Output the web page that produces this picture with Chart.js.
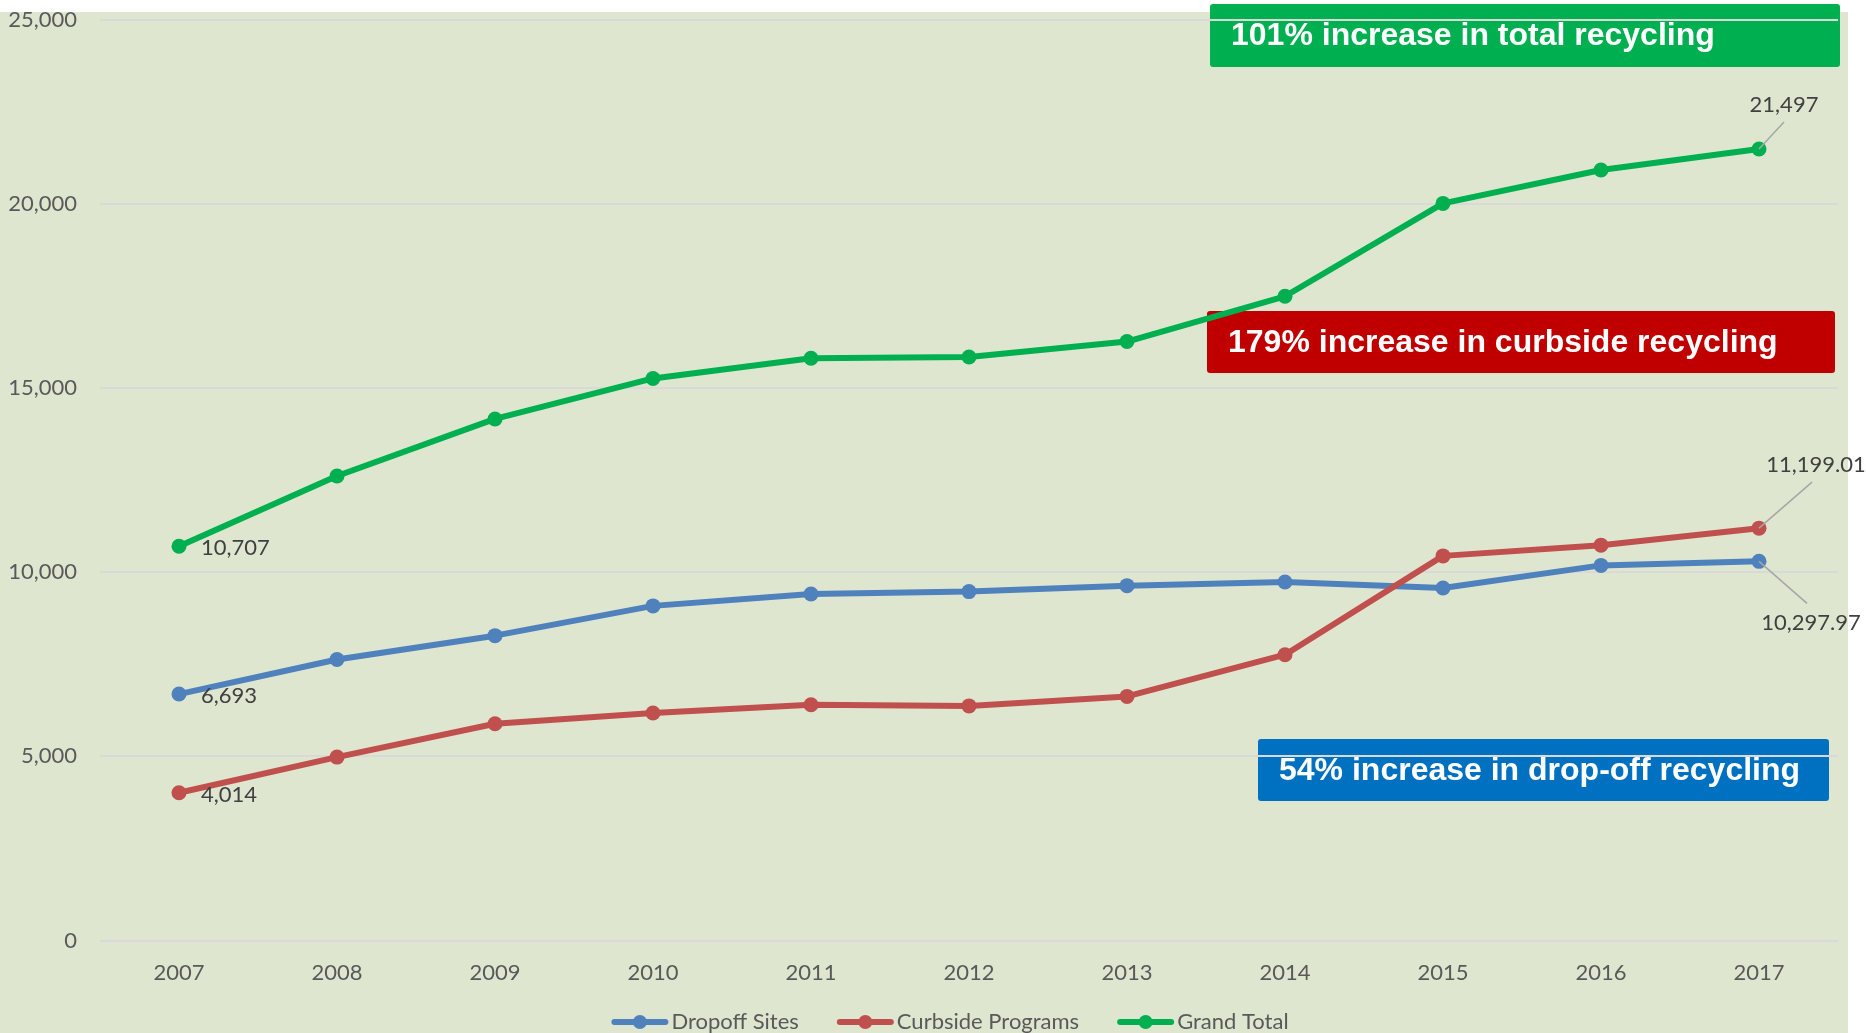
<!DOCTYPE html>
<html>
<head>
<meta charset="utf-8">
<title>Recycling tonnage 2007-2017</title>
<script src="https://cdn.jsdelivr.net/npm/chart.js@4.4.1/dist/chart.umd.min.js"></script>
<style>
  html, body { margin: 0; padding: 0; background: #ffffff; overflow: hidden; }
</style>
</head>
<body>
<canvas id="chart" width="1866" height="1033"></canvas>
<script>
/*
DATA
*/
const years = ['2007', '2008', '2009', '2010', '2011', '2012', '2013', '2014', '2015', '2016', '2017'];
const dropoffSites = [6693, 7633, 8279, 9088, 9411, 9476, 9638, 9735, 9573, 10188, 10297.97];
const curbsidePrograms = [4014, 4981, 5886, 6177, 6404, 6371, 6630, 7762, 10446, 10737, 11199.01];
const grandTotal = [10707, 12614, 14165, 15265, 15815, 15847, 16268, 17497, 20019, 20925, 21497];
const yTicks = [0, 5000, 10000, 15000, 20000, 25000];

const seriesNames = ['Dropoff Sites', 'Curbside Programs', 'Grand Total'];
const seriesColors = ['#4F81BD', '#C0504D', '#00B050'];

// callout banners (text + fill)
const calloutTexts = [
  '101% increase in total recycling',
  '179% increase in curbside recycling',
  '54% increase in drop-off recycling'
];
const calloutColors = ['#00B050', '#C00000', '#0070C0'];

/*
STYLE
*/
const FONT = 'Lato, "Noto Sans", sans-serif';
const TICK_COLOR = '#595959';
const LABEL_COLOR = '#404040';
const BG_COLOR = '#DEE6D0';

// banner boxes in canvas pixels
const calloutBoxes = [
  {x: 1210, y: 4, w: 630, h: 63},
  {x: 1207, y: 311, w: 628, h: 62},
  {x: 1258, y: 739, w: 571, h: 62}
];

// where the value labels go, relative to the first / last point of each series
const firstLabelOffset = {dx: 22, dy: 2};
const lastLabelOffsets = [
  {dx: 52, dy: 62, lx: 48, ly: 42},
  {dx: 57, dy: -63, lx: 53, ly: -46},
  {dx: 25, dy: -44, lx: 25, ly: -27}
];

function fmt(v) {
  return v.toLocaleString('en-US', {maximumFractionDigits: 2});
}

function makeDataset(label, data, color, order) {
  return {
    label: label,
    data: data,
    borderColor: color,
    backgroundColor: color,
    borderWidth: 6,
    borderCapStyle: 'round',
    borderJoinStyle: 'round',
    tension: 0,
    pointRadius: 7.5,
    pointHoverRadius: 7.5,
    pointBorderWidth: 0,
    pointBackgroundColor: color,
    order: order
  };
}

//backdrop + banners, drawn before the grid so the gridlines cross them
const backdropPlugin = {
  id: 'backdrop',
  beforeDraw(chart) {
    const ctx = chart.ctx;
    ctx.save();
    ctx.fillStyle = BG_COLOR;
    ctx.fillRect(0, 12, 1848, chart.height - 12);
    calloutBoxes.forEach((b, i) => {
      ctx.fillStyle = calloutColors[i];
      ctx.beginPath();
      ctx.roundRect(b.x, b.y, b.w, b.h, 3);
      ctx.fill();
      ctx.fillStyle = '#ffffff';
      ctx.font = 'bold 32px "Liberation Sans", Arial, sans-serif';
      ctx.textAlign = 'left';
      ctx.textBaseline = 'middle';
      ctx.fillText(calloutTexts[i], b.x + 21, b.y + b.h / 2 + 1);
    });
    ctx.restore();
  }
};

//value labels on first and last point of each line
const endLabelsPlugin = {
  id: 'endLabels',
  afterDatasetsDraw(chart) {
    const ctx = chart.ctx;
    ctx.save();
    ctx.font = '22px ' + FONT;
    ctx.fillStyle = LABEL_COLOR;
    ctx.textBaseline = 'middle';
    chart.data.datasets.forEach((ds, i) => {
      const meta = chart.getDatasetMeta(i);
      const first = meta.data[0];
      const last = meta.data[meta.data.length - 1];
      ctx.textAlign = 'left';
      ctx.fillText(fmt(ds.data[0]), first.x + firstLabelOffset.dx, first.y + firstLabelOffset.dy);

      const o = lastLabelOffsets[i];
      ctx.strokeStyle = '#A6A6A6';
      ctx.lineWidth = 1.5;
      ctx.beginPath();
      ctx.moveTo(last.x, last.y);
      ctx.lineTo(last.x + o.lx, last.y + o.ly);
      ctx.stroke();
      ctx.textAlign = 'center';
      ctx.fillText(fmt(ds.data[ds.data.length - 1]), last.x + o.dx, last.y + o.dy);
    });
    ctx.restore();
  }
};

//legend along the bottom edge (line + dot markers)
const bottomLegendPlugin = {
  id: 'bottomLegend',
  afterDraw(chart) {
    const ctx = chart.ctx;
    const markerW = 57, textGap = 3, itemGap = 38, cy = 1022, centerX = 950;
    ctx.save();
    ctx.font = '22px ' + FONT;
    const widths = chart.data.datasets.map(ds => markerW + textGap + ctx.measureText(ds.label).width);
    const total = widths.reduce((a, b) => a + b, 0) + itemGap * (widths.length - 1);
    let x = centerX - total / 2;
    chart.data.datasets.forEach((ds, i) => {
      ctx.strokeStyle = ds.borderColor;
      ctx.fillStyle = ds.borderColor;
      ctx.lineWidth = 6;
      ctx.lineCap = 'round';
      ctx.beginPath();
      ctx.moveTo(x + 3, cy);
      ctx.lineTo(x + markerW - 3, cy);
      ctx.stroke();
      ctx.beginPath();
      ctx.arc(x + markerW / 2, cy, 7, 0, Math.PI * 2);
      ctx.fill();
      ctx.fillStyle = TICK_COLOR;
      ctx.textAlign = 'left';
      ctx.textBaseline = 'middle';
      ctx.fillText(ds.label, x + markerW + textGap, cy);
      x += widths[i] + itemGap;
    });
    ctx.restore();
  }
};

const canvas = document.getElementById('chart');

const chart = new Chart(canvas, {
  type: 'line',
  data: {
    labels: years,
    datasets: [
      makeDataset(seriesNames[0], dropoffSites, seriesColors[0], 2),
      makeDataset(seriesNames[1], curbsidePrograms, seriesColors[1], 1),
      makeDataset(seriesNames[2], grandTotal, seriesColors[2], 0)
    ]
  },
  options: {
    responsive: false,
    animation: false,
    devicePixelRatio: 1,
    layout: {
      padding: {top: 20, right: 28, bottom: 32.5, left: 0}
    },
    plugins: {
      legend: {display: false},
      tooltip: {enabled: false}
    },
    scales: {
      x: {
        type: 'category',
        offset: true,
        grid: {display: false},
        border: {display: false},
        ticks: {
          color: TICK_COLOR,
          font: {family: FONT, size: 22},
          padding: 11,
          maxRotation: 0
        },
        afterFit: (axis) => {
          axis.height = 60;
          axis.paddingLeft = 0;
          axis.paddingRight = 0;
        }
      },
      y: {
        min: 0,
        max: 25000,
        afterBuildTicks: (axis) => { axis.ticks = yTicks.map(v => ({value: v})); },
        grid: {color: '#D9D9D9', lineWidth: 2, drawTicks: false},
        border: {display: false},
        ticks: {
          color: TICK_COLOR,
          font: {family: FONT, size: 22},
          padding: 23,
          callback: (v) => fmt(v)
        },
        afterFit: (axis) => {
          axis.width = 100;
          axis.paddingTop = 0;
          axis.paddingBottom = 0;
        }
      }
    }
  },
  plugins: [backdropPlugin, endLabelsPlugin, bottomLegendPlugin]
});
</script>
</body>
</html>
